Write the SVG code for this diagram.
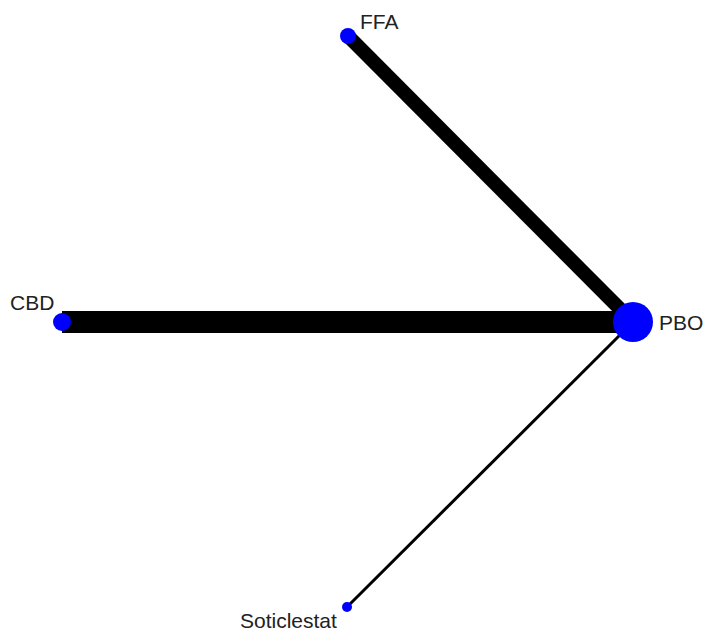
<svg xmlns="http://www.w3.org/2000/svg" width="707" height="632" viewBox="0 0 707 632">
<style>
.edge{stroke:#000;stroke-linecap:butt;fill:none}
.node{fill:#0000ff}
.lbl{font-family:"Liberation Sans",Arial,sans-serif;font-size:21px;fill:#222}
</style>
<rect width="707" height="632" fill="#fff"/>
<g id="edges">
<line class="edge" x1="633" y1="322" x2="62" y2="322" stroke-width="22"/>
<line class="edge" x1="633" y1="322" x2="348" y2="36" stroke-width="14"/>
<line class="edge" x1="633" y1="322" x2="347" y2="607" stroke-width="3"/>
</g>
<g id="PBO"><circle class="node" cx="633" cy="322" r="20"/><text class="lbl" x="659" y="330">PBO</text></g>
<g id="FFA"><circle class="node" cx="348" cy="36" r="8"/><text class="lbl" x="360" y="29">FFA</text></g>
<g id="CBD"><circle class="node" cx="62" cy="322" r="9"/><text class="lbl" x="10" y="310">CBD</text></g>
<g id="Soticlestat"><circle class="node" cx="347" cy="607" r="5"/><text class="lbl" x="240" y="628">Soticlestat</text></g>
</svg>
